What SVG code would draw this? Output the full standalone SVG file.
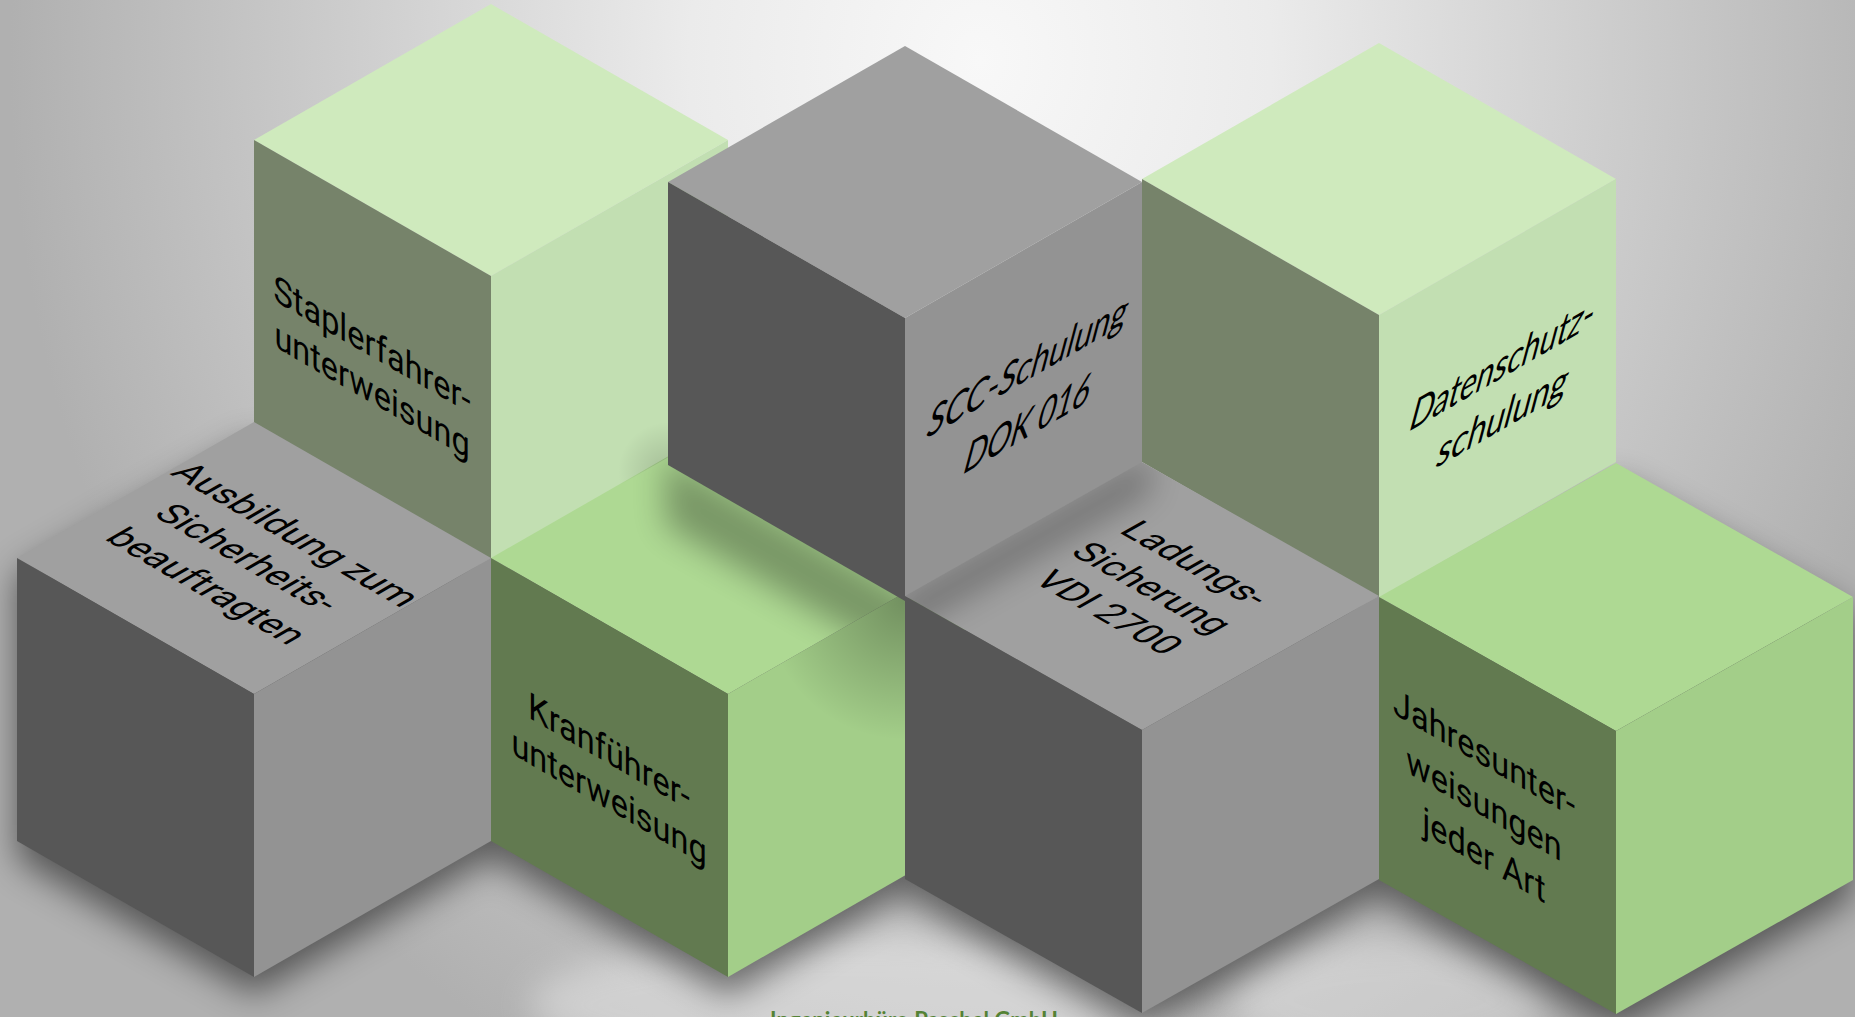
<svg xmlns="http://www.w3.org/2000/svg" width="1855" height="1017" viewBox="0 0 1855 1017">
  <defs>
    <radialGradient id="bg" gradientUnits="userSpaceOnUse" cx="980" cy="60" r="1000" gradientTransform="translate(980,60) scale(0.97,1.12) translate(-980,-60)">
      <stop offset="0" stop-color="#f8f8f8"/>
      <stop offset="0.3" stop-color="#ebebeb"/>
      <stop offset="0.65" stop-color="#cdcdcd"/>
      <stop offset="1" stop-color="#b0b0b0"/>
    </radialGradient>
    <radialGradient id="corner" gradientUnits="userSpaceOnUse" cx="668" cy="472" r="50">
      <stop offset="0" stop-color="#000" stop-opacity="0.15"/>
      <stop offset="1" stop-color="#000" stop-opacity="0"/>
    </radialGradient>
    <radialGradient id="kranR" gradientUnits="userSpaceOnUse" cx="905" cy="600" r="140">
      <stop offset="0" stop-color="#000" stop-opacity="0.3"/>
      <stop offset="1" stop-color="#000" stop-opacity="0"/>
    </radialGradient>
    <filter id="blurBig" x="-30%" y="-30%" width="160%" height="160%">
      <feGaussianBlur stdDeviation="17"/>
    </filter>
    <filter id="blurMid" x="-30%" y="-30%" width="160%" height="160%">
      <feGaussianBlur stdDeviation="16"/>
    </filter>
    <clipPath id="clipKranTop"><polygon points="728,422 965,558 728,694 491,558"/></clipPath>
    <clipPath id="clipKranRight"><polygon points="728,694 965,558 965,841 728,977"/></clipPath>
    <clipPath id="clipStapRight"><polygon points="491,276 728,140 728,423 491,559"/></clipPath>
    <clipPath id="clipLadTop"><polygon points="1142,462 1379,596 1142,730 905,596"/></clipPath>
    <style>
      .gt{fill:#a0a0a0}.gl{fill:#575757}.gr{fill:#939393}
      .lt{fill:#cfeabd}.ll{fill:#76836a}.lr{fill:#c2dfb2}
      .dt{fill:#aed993}.dl{fill:#627a50}.dr{fill:#a3ce89}
      .r{font-family:Roboto,"Liberation Sans",sans-serif;font-size:37.5px;fill:#000;text-anchor:middle}
      .c{font-family:Lato,"Liberation Sans",sans-serif;font-size:39px;fill:#000;text-anchor:middle}
      .foot{font-family:Lato,"Liberation Sans",sans-serif;font-weight:bold;font-size:22px;fill:#548235;text-anchor:middle}
    </style>
  </defs>

  <rect width="1855" height="1017" fill="url(#bg)"/>
  <ellipse cx="850" cy="1005" rx="320" ry="70" fill="#fff" opacity="0.35" filter="url(#blurBig)"/>
  <ellipse cx="1390" cy="1000" rx="160" ry="60" fill="#fff" opacity="0.3" filter="url(#blurBig)"/>

  <g id="floor-shadows" fill="#000" opacity="0.5" filter="url(#blurBig)" transform="translate(0,18)">
    <polygon points="254,422 491,558 491,841 254,977 17,841 17,558"/>
    <polygon points="728,422 965,558 965,841 728,977 491,841 491,558"/>
    <polygon points="1142,462 1379,596 1379,879 1142,1013 905,879 905,596"/>
    <polygon points="1616,463 1853,597 1853,880 1616,1014 1379,880 1379,597"/>
  </g>

  <g id="node-staplerfahrer">
    <polygon class="lt" points="491,4 728,140 491,276 254,140"/>
    <polygon class="ll" points="254,140 491,276 491,559 254,423"/>
    <polygon class="lr" points="491,276 728,140 728,423 491,559"/>
    <text class="r" transform="matrix(0.866,0.5,0,1,372,357)"><tspan x="0" y="0">Staplerfahrer-</tspan><tspan x="0" y="46">unterweisung</tspan></text>
  </g>

  <g id="node-ausbildung">
    <polygon class="gt" points="254,422 491,558 254,694 17,558"/>
    <polygon class="gl" points="17,558 254,694 254,977 17,841"/>
    <polygon class="gr" points="254,694 491,558 491,841 254,977"/>
    <text class="r" transform="matrix(0.866,0.5,-0.866,0.5,254,422)"><tspan x="137" y="101">Ausbildung zum</tspan><tspan x="132" y="152">Sicherheits-</tspan><tspan x="137" y="204">beauftragten</tspan></text>
  </g>

  <g id="node-kranfuehrer">
    <polygon class="dt" points="728,422 965,558 728,694 491,558"/>
    <polygon class="dl" points="491,558 728,694 728,977 491,841"/>
    <polygon class="dr" points="728,694 965,558 965,841 728,977"/>
    <g clip-path="url(#clipKranTop)">
      <polygon points="665,455 920,602 920,672 665,525" fill="#000" opacity="0.3" filter="url(#blurMid)"/>
    </g>
    <rect x="728" y="550" width="240" height="430" fill="url(#kranR)" clip-path="url(#clipKranRight)"/>
    <text class="r" transform="matrix(0.866,0.5,0,1,609,764)"><tspan x="0" y="0">Kranführer-</tspan><tspan x="0" y="46">unterweisung</tspan></text>
  </g>

  <rect x="491" y="380" width="240" height="180" fill="url(#corner)" clip-path="url(#clipStapRight)"/>

  <g id="node-scc">
    <polygon class="gt" points="905,46 1142,182 905,318 668,182"/>
    <polygon class="gl" points="668,182 905,318 905,601 668,465"/>
    <polygon class="gr" points="905,318 1142,182 1142,465 905,601"/>
    <text class="c" transform="matrix(0.866,-0.5,0,1,1024,382) skewX(-20)"><tspan x="0" y="0" textLength="230" lengthAdjust="spacingAndGlyphs">SCC-Schulung</tspan><tspan x="20.7" y="57" textLength="145" lengthAdjust="spacingAndGlyphs">DOK 016</tspan></text>
  </g>

  <g id="node-datenschutz">
    <polygon class="lt" points="1379,43 1616,179 1379,315 1142,179"/>
    <polygon class="ll" points="1142,179 1379,315 1379,598 1142,462"/>
    <polygon class="lr" points="1379,315 1616,179 1616,462 1379,598"/>
    <text class="c" transform="matrix(0.866,-0.5,0,1,1499,379.5) skewX(-20)"><tspan x="0" y="0" textLength="212" lengthAdjust="spacingAndGlyphs">Datenschutz-</tspan><tspan x="18.9" y="52" textLength="150" lengthAdjust="spacingAndGlyphs">schulung</tspan></text>
  </g>

  <g id="node-ladungssicherung">
    <polygon class="gt" points="1142,462 1379,596 1142,730 905,596"/>
    <polygon class="gl" points="905,596 1142,730 1142,1013 905,879"/>
    <polygon class="gr" points="1142,730 1379,596 1379,879 1142,1013"/>
    <g clip-path="url(#clipLadTop)">
      <polygon points="895,600 1150,455 1150,492 895,637" fill="#000" opacity="0.28" filter="url(#blurMid)"/>
    </g>
    <text class="r" transform="matrix(0.868,0.491,-0.868,0.491,1142,462)"><tspan x="134" y="85">Ladungs-</tspan><tspan x="134" y="135">Sicherung</tspan><tspan x="134" y="185">VDI 2700</tspan></text>
  </g>

  <g id="node-jahresunterweisungen">
    <polygon class="dt" points="1616,463 1853,597 1616,731 1379,597"/>
    <polygon class="dl" points="1379,597 1616,731 1616,1014 1379,880"/>
    <polygon class="dr" points="1616,731 1853,597 1853,880 1616,1014"/>
    <text class="r" transform="matrix(0.866,0.5,0,1,1484,766)"><tspan x="0" y="0">Jahresunter-</tspan><tspan x="0" y="51">weisungen</tspan><tspan x="0" y="102">jeder Art</tspan></text>
  </g>

  <g id="connectors"/>

  <text class="foot" x="914" y="1027.5" textLength="288">Ingenieurbüro Paschel GmbH</text>
</svg>
